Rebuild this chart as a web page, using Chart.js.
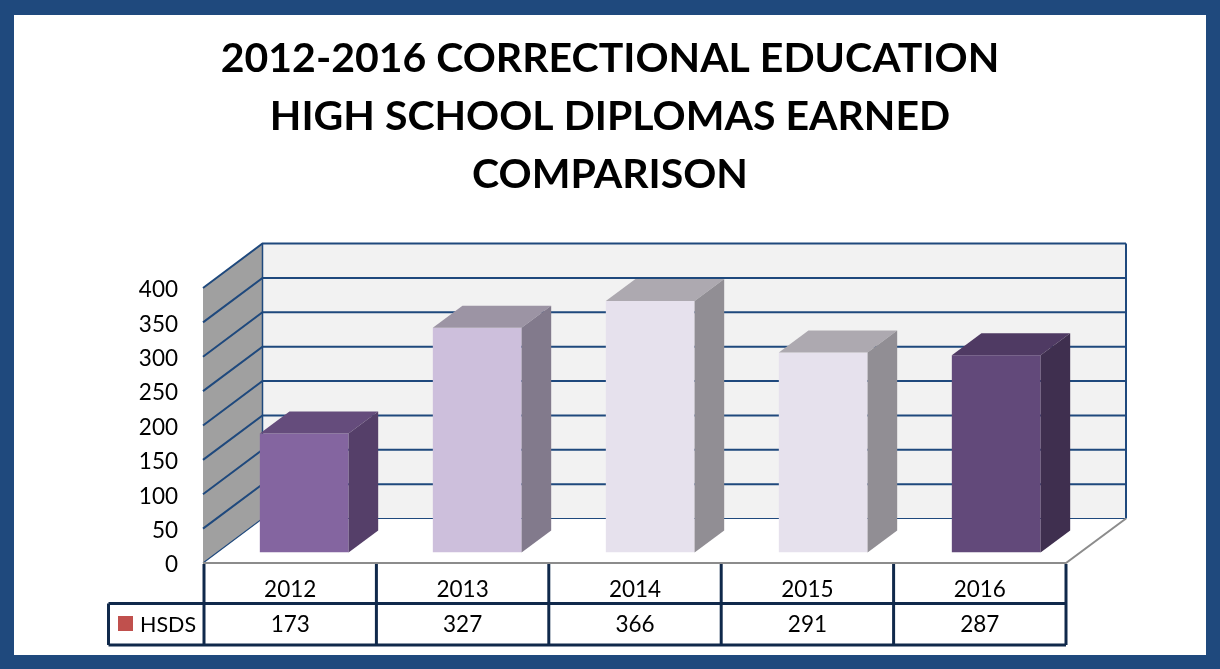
<!DOCTYPE html>
<html>
<head>
<meta charset="utf-8">
<style>html,body{margin:0;padding:0;background:#1F497D;overflow:hidden}canvas{display:block}</style>
<script src="https://cdn.jsdelivr.net/npm/chart.js@4"></script>
</head>
<body>
<canvas id="c" width="1220" height="669"></canvas>
<script>
const titleLines = ["2012-2016 CORRECTIONAL EDUCATION", "HIGH SCHOOL DIPLOMAS EARNED", "COMPARISON"];
const years = ["2012", "2013", "2014", "2015", "2016"];
const seriesName = "HSDS";
const hsds = [173, 327, 366, 291, 287];
const frontColors = ["#8465A0", "#CDBFDC", "#E6E1ED", "#E6E1ED", "#62497A"];
const sideColors = ["#553F69", "#827A8C", "#918E94", "#918E94", "#3F2F4F"];
const topColors = ["#654C7C", "#9C94A4", "#ADA9B0", "#ADA9B0", "#4F3A63"];

const FONT = "Lato";
const NAVY = "#1F497D", TABLE = "#10294B";
const WALL = {inset: -1, dx: 59.5, dy: 44.5, right: 60};
const BAR = {sx: 13, sy: -10.5, kx: 1.00348, dx: 29.5, dy: 22};

function line(ctx, pts, color, w) {
  ctx.beginPath();
  pts.forEach((p, i) => i ? ctx.lineTo(p[0], p[1]) : ctx.moveTo(p[0], p[1]));
  ctx.strokeStyle = color; ctx.lineWidth = w; ctx.stroke();
}
function poly(ctx, pts, color) {
  ctx.beginPath();
  pts.forEach((p, i) => i ? ctx.lineTo(p[0], p[1]) : ctx.moveTo(p[0], p[1]));
  ctx.closePath(); ctx.fillStyle = color; ctx.fill();
}

const frame = {
  id: "frame",
  beforeDraw(chart) {
    const c = chart.ctx;
    c.save();
    c.fillStyle = NAVY; c.fillRect(0, 0, chart.width, chart.height);
    c.fillStyle = "#FFFFFF"; c.fillRect(14, 15, 1192, 640);
    c.restore();
    // nudge the value labels down so they centre on their gridlines
    if (!chart.$labelsNudged) {
      chart.scales.y.getLabelItems().forEach(it => { it.options.translation[1] += 2; });
      chart.$labelsNudged = true;
    }
  }
};

const walls = {
  id: "walls",
  beforeDatasetsDraw(chart) {
    const c = chart.ctx, a = chart.chartArea, y = chart.scales.y;
    const {inset, dx, dy, right} = WALL;
    const fl = a.left + inset, bl = fl + dx, br = a.right + right;
    c.save();
    poly(c, [[bl, a.top - dy], [br, a.top - dy], [br, a.bottom - dy], [bl, a.bottom - dy]], "#F2F2F2");
    poly(c, [[fl, a.top], [bl, a.top - dy], [bl, a.bottom - dy], [fl, a.bottom]], "#A0A0A0");
    y.ticks.forEach(t => {
      const py = y.getPixelForValue(t.value);
      line(c, [[fl, py], [bl, py - dy], [br, py - dy]], NAVY, t.value === 0 ? 1.2 : 2);
    });
    line(c, [[bl, a.top - dy], [bl, a.bottom - dy]], NAVY, 1.5);
    line(c, [[br, a.top - dy], [br, a.bottom - dy]], NAVY, 2);
    line(c, [[fl, a.bottom], [a.right, a.bottom], [br, a.bottom - dy]], "#8C8C8C", 2);
    c.restore();
  }
};

const bars3d = {
  id: "bars3d",
  beforeDatasetDraw(chart) {
    chart.ctx.save();
    chart.ctx.translate(BAR.sx, BAR.sy);
    chart.ctx.scale(BAR.kx, 1);
  },
  afterDatasetDraw(chart, args) {
    const c = chart.ctx;
    args.meta.data.forEach((el, i) => {
      const l = el.x - el.width / 2, r = el.x + el.width / 2, t = el.y, b = el.base;
      poly(c, [[l, t], [r, t], [r + BAR.dx, t - BAR.dy], [l + BAR.dx, t - BAR.dy]], topColors[i]);
      poly(c, [[r, t], [r + BAR.dx, t - BAR.dy], [r + BAR.dx, b - BAR.dy], [r, b]], sideColors[i]);
    });
    c.restore();
  }
};

const table = {
  id: "table",
  afterDatasetsDraw(chart) {
    const c = chart.ctx, a = chart.chartArea, x = chart.scales.x;
    const rowTop = 603.5, rowBottom = 645, legendLeft = 108.5;
    c.save();
    line(c, [[legendLeft, rowTop], [a.right, rowTop]], TABLE, 3);
    line(c, [[legendLeft, rowBottom], [a.right, rowBottom]], TABLE, 3);
    line(c, [[legendLeft, rowTop], [legendLeft, rowBottom]], TABLE, 3);
    const step = (a.right - a.left) / years.length;
    for (let i = 0; i <= years.length; i++) {
      const px = a.left + step * i;
      line(c, [[px, a.bottom + 1], [px, rowBottom]], TABLE, 3);
    }
    c.fillStyle = "#C0504D";
    c.fillRect(118, 616, 15, 15);
    c.fillStyle = "#000000";
    c.textBaseline = "middle";
    c.textAlign = "left";
    c.font = "21.5px " + FONT;
    c.fillText(seriesName, 140, 625);
    c.font = "22.5px " + FONT;
    c.textAlign = "center";
    hsds.forEach((v, i) => c.fillText(String(v), x.getPixelForTick(i), 625));
    c.restore();
  }
};

new Chart(document.getElementById("c"), {
  type: "bar",
  data: {
    labels: years,
    datasets: [{label: seriesName, data: hsds, backgroundColor: frontColors, borderWidth: 0,
      barPercentage: 0.513, categoryPercentage: 1}]
  },
  options: {
    responsive: false,
    animation: false,
    devicePixelRatio: 1,
    layout: {padding: 0},
    plugins: {
      legend: {display: false},
      tooltip: {enabled: false},
      title: {
        display: true,
        text: titleLines,
        color: "#000000",
        font: {family: FONT, size: 41, weight: "bold", lineHeight: 58 / 41},
        padding: {top: 30, bottom: 84}
      }
    },
    scales: {
      x: {
        grid: {display: false, drawTicks: false},
        border: {display: false},
        ticks: {color: "#000000", font: {family: FONT, size: 22.5}, padding: 13, maxRotation: 0},
        afterFit: s => { s.height = 106; }
      },
      y: {
        min: 0, max: 400,
        grid: {display: false, drawTicks: false},
        border: {display: false},
        ticks: {stepSize: 50, color: "#000000", font: {family: FONT, size: 22.5}, padding: 26},
        afterFit: s => { s.width = 204; }
      },
      spacer: {
        position: "right",
        min: 0, max: 1,
        grid: {display: false, drawTicks: false},
        border: {display: false},
        ticks: {display: false},
        afterFit: s => { s.width = 154; }
      }
    }
  },
  plugins: [frame, walls, bars3d, table]
});
</script>
</body>
</html>
